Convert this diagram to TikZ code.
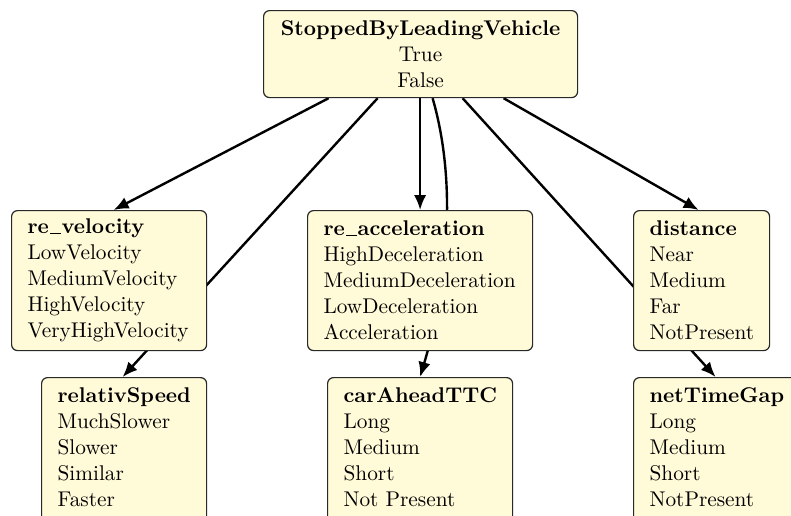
\documentclass[tikz,border=0pt]{standalone}
\usetikzlibrary{arrows.meta}
\pgfdeclarelayer{edges}
\pgfsetlayers{edges,main}
\definecolor{boxfill}{RGB}{255,250,216}
\definecolor{boxline}{RGB}{40,40,40}
% a low line like the classic \_ rule
\newcommand\lowbar{\leavevmode\kern.06em\vbox{\hrule width .5em height .55pt}\kern.04em}
\begin{document}
\begin{tikzpicture}[x=0.5pt,y=-0.5pt,
  font=\fontsize{10.65}{13}\selectfont,
  varbox/.style={draw=boxline, line width=0.6pt, fill=boxfill, rounded corners=3pt,
    anchor=north west, inner xsep=8pt, inner ysep=0pt, align=left, minimum height=70pt},
  lowbox/.style={varbox, minimum height=84pt},
  rootbox/.style={varbox, inner xsep=6pt, align=center, minimum height=43.5pt},
  link/.style={line width=1.2pt, -{Latex[length=7.5pt,width=6.2pt]}}]
\useasboundingbox (0,0) rectangle (791,515);

% root variable
\node[rootbox, text width=145pt] (stop) at (263,10)
  {\textbf{StoppedByLeadingVehicle}\\True\\False};

% middle row
\node[varbox, text width=81.5pt] (revel) at (11,210)
  {\textbf{re\lowbar velocity}\\LowVelocity\\MediumVelocity\\HighVelocity\\VeryHighVelocity};
\node[varbox, text width=96.5pt] (reacc) at (307,210)
  {\textbf{re\lowbar acceleration}\\HighDeceleration\\MediumDeceleration\\LowDeceleration\\Acceleration};
\node[varbox, text width=52pt] (dist) at (633,210)
  {\textbf{distance}\\Near\\Medium\\Far\\NotPresent};

% bottom row (boxes run past the lower edge)
\node[lowbox, text width=66.5pt] (relspeed) at (41,377)
  {\textbf{relativSpeed}\\MuchSlower\\Slower\\Similar\\Faster\par\vspace*{14pt}\hrule height 0pt width 0pt};
\node[lowbox, text width=76.5pt] (ttc) at (327,377)
  {\textbf{carAheadTTC}\\Long\\Medium\\Short\\Not Present\par\vspace*{14pt}\hrule height 0pt width 0pt};
\node[lowbox, text width=66pt] (gap) at (633,377)
  {\textbf{netTimeGap}\\Long\\Medium\\Short\\NotPresent\par\vspace*{14pt}\hrule height 0pt width 0pt};

% dependencies, drawn beneath the boxes
\begin{pgfonlayer}{edges}
  \draw[link] ([xshift=-46pt]stop.south) -- ([xshift=2.25pt]revel.north);
  \draw[link] ([xshift=-21.5pt]stop.south) -- ([xshift=-0.75pt]relspeed.north);
  \draw[link] (reacc.north |- stop.south) -- (reacc.north);
  \draw[link] ([xshift=6pt]stop.south) .. controls (462,200) and (440,310) .. (ttc.north);
  \draw[link] ([xshift=21pt]stop.south) -- (gap.north);
  \draw[link] ([xshift=41.5pt]stop.south) -- ([xshift=-1.5pt]dist.north);
\end{pgfonlayer}
\end{tikzpicture}
\end{document}
